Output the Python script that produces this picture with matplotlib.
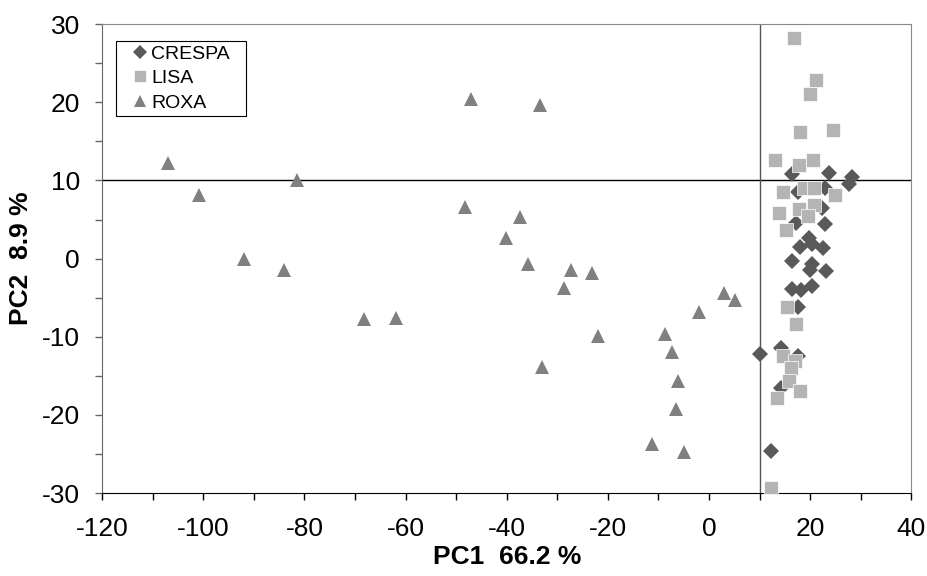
import matplotlib
matplotlib.use("Agg")
import matplotlib.pyplot as plt
from matplotlib.path import Path
from matplotlib.ticker import MultipleLocator

plt.rcParams['font.family'] = ['Liberation Sans', 'DejaVu Sans']
plt.rcParams['axes.unicode_minus'] = False

# PCA scores
crespa_x = [16.4, 23.8, 28.3, 17.5, 23.0, 27.6, 22.4, 17.2, 23.0, 19.8, 18.0, 20.3, 22.6,
            16.5, 20.3, 19.9, 23.2, 16.5, 18.2, 20.3, 17.5, 10.0, 14.2, 17.5, 14.2, 12.2]
crespa_y = [10.8, 11.0, 10.4, 8.5, 9.1, 9.5, 6.5, 4.6, 4.4, 2.6, 1.5, 1.9, 1.4,
            -0.3, -0.7, -1.4, -1.6, -3.9, -4.0, -3.5, -6.2, -12.2, -11.4, -12.5, -16.6, -24.6]

lisa_x = [16.8, 21.1, 20.0, 18.0, 24.6, 13.1, 17.7, 20.5, 14.7, 18.8, 20.8, 25.0, 13.9,
          17.8, 20.8, 19.5, 15.2, 15.5, 17.3, 14.7, 17.0, 16.2, 15.8, 18.0, 13.5, 12.3]
lisa_y = [28.2, 22.9, 21.1, 16.2, 16.5, 12.6, 12.0, 12.6, 8.5, 9.0, 9.0, 8.2, 5.9,
          6.3, 6.9, 5.4, 3.6, -6.2, -8.4, -12.5, -13.1, -14.0, -15.7, -16.9, -17.8, -29.3]

roxa_x = [-106.9, -100.9, -81.5, -91.9, -84.0, -68.3, -61.9, -47.0, -33.5, -48.2, -37.3,
          -40.1, -35.8, -27.3, -23.2, -28.7, -22.0, -33.0, 3.0, 5.1, -2.0, -8.6, -7.3,
          -6.1, -6.6, -11.2, -4.9]
roxa_y = [12.25, 8.2, 10.0, 0.0, -1.5, -7.7, -7.6, 20.4, 19.6, 6.6, 5.3,
          2.6, -0.7, -1.5, -1.9, -3.7, -9.9, -13.9, -4.4, -5.3, -6.8, -9.7, -12.0,
          -15.6, -19.3, -23.7, -24.8]

ref_x = 10
ref_y = 10


def wide_box(x0, y0, width, height, mutation_size):
    # legend frame with more room left/right than top/bottom
    px = 0.67 * mutation_size
    verts = [(x0 - px, y0), (x0 + width + px, y0), (x0 + width + px, y0 + height),
             (x0 - px, y0 + height), (x0 - px, y0)]
    return Path(verts, closed=True)


fig = plt.figure(figsize=(9.28, 5.76), dpi=100)
ax = fig.add_axes([0.110, 0.144, 0.872, 0.814])

ax.axhline(ref_y, color='black', lw=1, zorder=1)
ax.axvline(ref_x, color='#555555', lw=1, zorder=1)

ax.plot(crespa_x, crespa_y, 'D', color='#595959', ms=8, mew=0, label='CRESPA', zorder=3)
ax.plot(lisa_x, lisa_y, 's', color='#b4b4b4', ms=9.5, mew=0.5, mec='white', label='LISA', zorder=4)
ax.plot(roxa_x, roxa_y, '^', color='#808080', ms=10, mew=0, label='ROXA', zorder=5)

ax.set_xlim(-120, 40)
ax.set_ylim(-30, 30)
ax.xaxis.set_major_locator(MultipleLocator(20))
ax.xaxis.set_minor_locator(MultipleLocator(10))
ax.yaxis.set_major_locator(MultipleLocator(10))
ax.yaxis.set_minor_locator(MultipleLocator(5))
ax.tick_params(which='both', direction='out', length=5, width=1,
               labelcolor='black', labelsize=19)
ax.tick_params(axis='x', which='both', pad=12, colors='black')
ax.tick_params(axis='y', which='both', pad=11, colors='#666666')
ax.tick_params(axis='y', labelcolor='black')

for side in ['top', 'right']:
    ax.spines[side].set_color('#888888')
ax.spines['left'].set_color('#666666')
ax.spines['bottom'].set_color('black')

ax.set_xlabel('PC1  66.2 %', fontsize=19, fontweight='bold', labelpad=3)
ax.set_ylabel('PC2  8.9 %', fontsize=19, fontweight='bold', labelpad=6)

leg = ax.legend(loc='upper left', bbox_to_anchor=(0.0334, 0.964), borderaxespad=0,
                fontsize=14, markerscale=0.85, handlelength=0.72, handletextpad=0.2,
                labelspacing=0.36, borderpad=0.2, fancybox=False, framealpha=1,
                edgecolor='black')
leg.get_frame().set_linewidth(0.8)
leg.get_frame().set_boxstyle(wide_box)

fig.savefig('out.png', dpi=100)
